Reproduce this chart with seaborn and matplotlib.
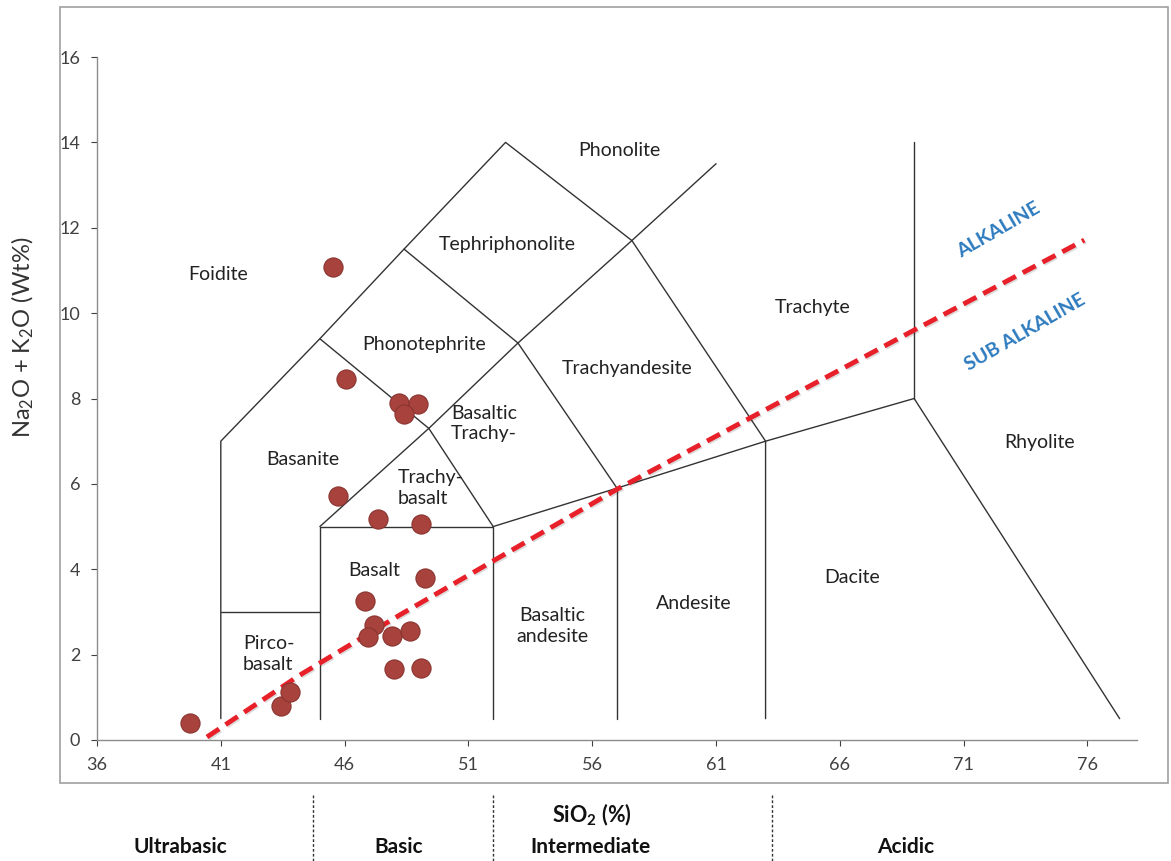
import matplotlib.pyplot as plt
import matplotlib.patheffects as pe
from matplotlib.patches import Rectangle
from matplotlib.lines import Line2D
import seaborn as sns
import pandas as pd

# sample compositions (SiO2 wt%, Na2O+K2O wt%)
sio2 = [39.75, 43.43, 43.79, 45.73, 47.34, 49.07, 49.24, 46.82, 47.18, 46.94,
        47.90, 48.63, 47.99, 49.07, 48.19, 48.95, 48.39, 46.05, 45.52]
alk = [0.40, 0.80, 1.12, 5.71, 5.18, 5.06, 3.79, 3.26, 2.69, 2.41,
       2.44, 2.55, 1.66, 1.69, 7.89, 7.87, 7.63, 8.45, 11.08]

# TAS field boundaries (polylines)
tas_lines = [
    [(41, 0.5), (41, 7), (45, 9.4), (48.4, 11.5), (52.5, 14), (57.6, 11.7), (63, 7), (63, 0.5)],
    [(41, 3), (45, 3)],
    [(45, 0.5), (45, 5), (52, 5), (52, 0.5)],
    [(52, 5), (57, 5.9), (63, 7), (69, 8), (77.3, 0.5)],
    [(57, 0.5), (57, 5.9)],
    [(69, 8), (69, 14)],
    [(45, 9.4), (49.4, 7.3), (52, 5)],
    [(45, 5), (49.4, 7.3), (53, 9.3), (57.6, 11.7), (61, 13.5)],
    [(48.4, 11.5), (53, 9.3), (57, 5.9)],
]

# alkaline / sub-alkaline divide (gently curved)
divide_x = [40.44, 44.19, 48.23, 57.02, 68.93, 75.87]
divide_y = [0.07, 1.52, 2.93, 5.88, 9.58, 11.71]

field_names = ["Foidite", "Phonolite", "Tephriphonolite", "Phonotephrite", "Trachyandesite",
               "Trachyte", "Rhyolite", "Basanite", "Basalt", "Basaltic\nandesite",
               "Andesite", "Dacite"]
field_x = [40.9, 57.1, 52.55, 49.2, 57.4, 64.9, 74.05, 44.3, 47.2, 54.4, 60.1, 66.5]
field_y = [10.9, 13.82, 11.6, 9.27, 8.7, 10.14, 6.96, 6.56, 3.96, 2.67, 3.2, 3.8]

left_names = ["Basaltic\nTrachy-", "Trachy-\nbasalt", "Pirco-\nbasalt"]
left_x = [50.3, 48.15, 41.9]
left_y = [7.42, 5.9, 2.01]

xticks = [36, 41, 46, 51, 56, 61, 66, 71, 76]
yticks = [0, 2, 4, 6, 8, 10, 12, 14, 16]

groups = ["Ultrabasic", "Basic", "Intermediate", "Acidic"]
group_px = [180, 399, 590, 906]
group_div_px = [313, 493, 772]

sns.set_theme(style="white")
plt.rcParams['font.family'] = ['Lato', 'DejaVu Sans']
plt.rcParams['mathtext.default'] = 'regular'

W, H = 1171, 861
fig = plt.figure(figsize=(W / 100, H / 100), dpi=100)
ax = fig.add_axes([97 / W, 1 - 740 / H, (1137 - 97) / W, (740 - 57) / H])

# chart frame
fig.patches.append(Rectangle((60 / W, 1 - 783 / H), (1168 - 60) / W, (783 - 7) / H,
                             transform=fig.transFigure, fill=False,
                             edgecolor="#a0a0a0", linewidth=1.2))

for seg in tas_lines:
    xs, ys = zip(*seg)
    ax.plot(xs, ys, color="#333333", linewidth=1.0, zorder=2)

ax.plot(divide_x, divide_y, color="#e8202a", linewidth=3.5, linestyle=(0, (3, 1.6)),
        zorder=4, path_effects=[pe.SimpleLineShadow(offset=(1, -1), alpha=0.15), pe.Normal()])

df = pd.DataFrame({"SiO2": sio2, "alk": alk})
sns.scatterplot(data=df, x="SiO2", y="alk", ax=ax, s=190, color="#a8423d",
                edgecolor="#8a3430", linewidth=0.8, zorder=5)

for name, x, y in zip(field_names, field_x, field_y):
    ax.text(x, y, name, ha="center", va="center", fontsize=14, color="#222222",
            linespacing=1.25)
for name, x, y in zip(left_names, left_x, left_y):
    ax.text(x, y, name, ha="left", va="center", fontsize=14, color="#222222",
            linespacing=1.25)

ax.text(72.4, 11.94, "ALKALINE", rotation=30, ha="center", va="center",
        fontsize=14, fontweight="bold", color="#2e7bbf")
ax.text(73.5, 9.55, "SUB ALKALINE", rotation=30, ha="center", va="center",
        fontsize=14, fontweight="bold", color="#2e7bbf")

ax.set_xlim(36, 78)
ax.set_ylim(0, 16)
ax.set_xticks(xticks)
ax.set_yticks(yticks)
ax.set_xlabel("")
ax.set_ylabel("Na$_2$O + K$_2$O (Wt%)", fontsize=17, color="#333333")
ax.yaxis.set_label_coords(-0.059, 0.59)
ax.tick_params(axis="both", labelsize=13, colors="#404040", length=4, width=0.8,
               direction="out", bottom=True, left=True)
ax.tick_params(axis="x", pad=8)
ax.tick_params(axis="y", pad=8)
for side in ["top", "right"]:
    ax.spines[side].set_visible(False)
for side in ["left", "bottom"]:
    ax.spines[side].set_color("#8c8c8c")
    ax.spines[side].set_linewidth(1.0)

# SiO2 classification strip under the chart
fig.text(592 / W, 1 - 815 / H, "SiO$_2$ (%)", ha="center", va="center",
         fontsize=15.5, fontweight="bold", color="#111111")
for name, px in zip(groups, group_px):
    fig.text(px / W, 1 - 847 / H, name, ha="center", va="center",
             fontsize=15, fontweight="bold", color="#111111")
for px in group_div_px:
    fig.add_artist(Line2D([px / W, px / W], [1 - 795 / H, 0], transform=fig.transFigure,
                          color="#333333", linewidth=1.0, linestyle=(0, (2, 1.5))))

fig.savefig("out.png", dpi=100)
